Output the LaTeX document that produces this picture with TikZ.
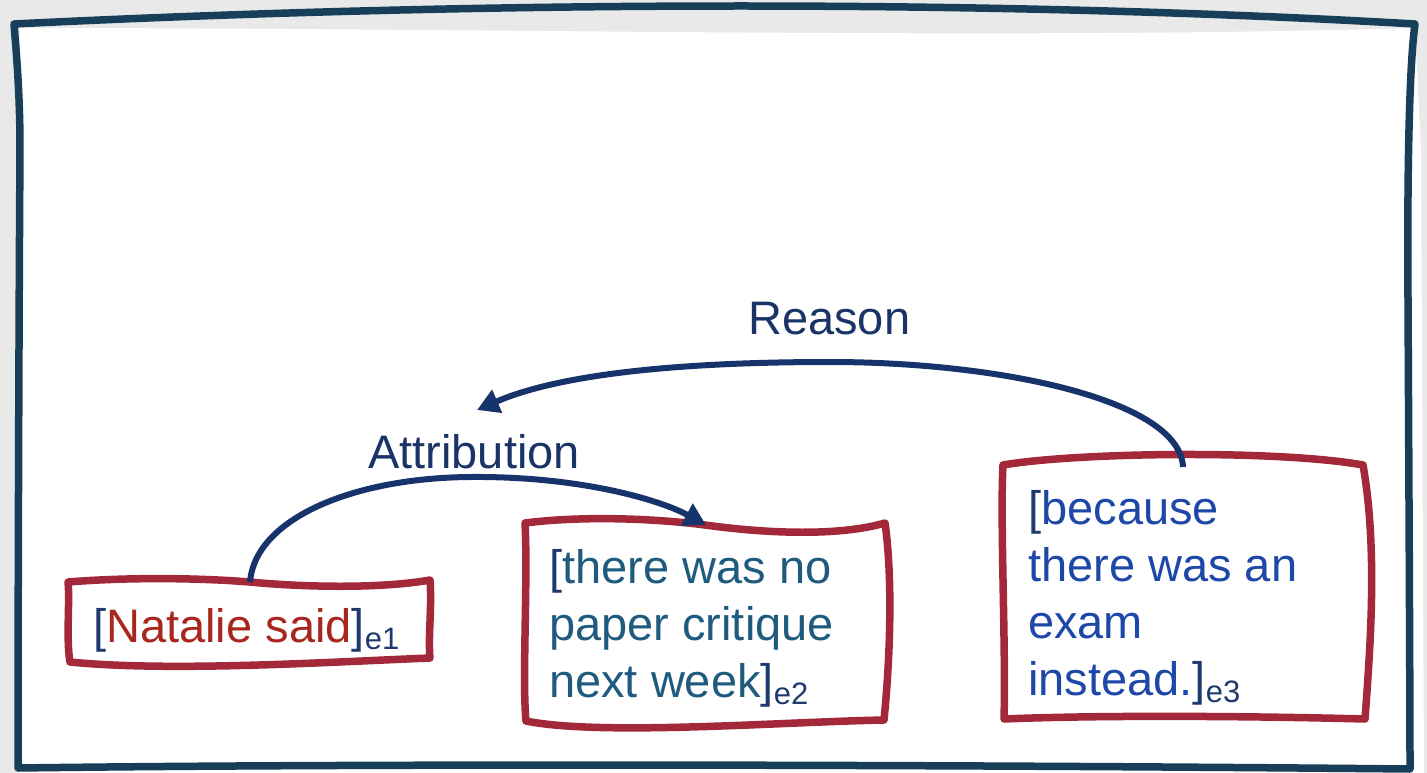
\documentclass[tikz,border=0pt]{standalone}
\usepackage{fontspec}
\setmainfont{Liberation Sans}
\usetikzlibrary{arrows.meta}
\definecolor{bgray}{HTML}{E9E9E9}
\definecolor{framecol}{HTML}{183F5A}
\definecolor{boxred}{HTML}{A3293A}
\definecolor{arrowblue}{HTML}{17336B}
\definecolor{brk}{HTML}{1F3A6E}
\definecolor{txtred}{HTML}{A8261E}
\definecolor{txtteal}{HTML}{1F5B7E}
\definecolor{txtblue}{HTML}{1E48A8}
\definecolor{lbl}{HTML}{1A3468}
\newcommand{\edusub}[1]{\raisebox{-7pt}{\fontsize{31}{31}\selectfont\color{brk}#1}}
\begin{document}
\begin{tikzpicture}[x=1pt,y=-1pt,
  sketch/.style={line width=7.5pt, line join=round, line cap=round},
  redbox/.style={sketch, draw=boxred},
  edutext/.style={font=\fontsize{47}{57}\selectfont, inner sep=0pt, align=left, anchor=base west},
  rel/.style={draw=arrowblue, line width=6pt, -{Triangle[length=22pt,width=24pt]}},
  rellabel/.style={font=\fontsize{47}{57}\selectfont, text=lbl, inner sep=0pt, anchor=base west}]
\useasboundingbox (0,0) rectangle (1427,773);
% background and paper
\fill[bgray] (0,0) rectangle (1427,773);
\fill[white] (20,28) .. controls (500,28) and (1000,40) .. (1415,28)
  -- (1421,150) -- (1424,773) -- (18,773) -- cycle;
% frame
\draw[sketch, draw=framecol] (14,24) .. controls (500,0) and (1000,0) .. (1415,24)
  .. controls (1410,60) and (1407,150) .. (1408,300)
  .. controls (1409,500) and (1410,700) .. (1410,769)
  .. controls (1000,765) and (400,763) .. (18,768)
  .. controls (18,600) and (19,300) .. (20,150)
  .. controls (20,90) and (16,50) .. cycle;
% boxes
\draw[redbox] (68,582) .. controls (130,577) and (200,578) .. (250,582)
  .. controls (300,587) and (380,589) .. (430,580)
  .. controls (432,610) and (428,635) .. (430,658)
  .. controls (330,662) and (170,672) .. (70,662)
  .. controls (66,640) and (70,600) .. cycle;
\draw[redbox] (525,523) .. controls (580,516) and (650,518) .. (705,525)
  .. controls (770,534) and (840,536) .. (885,523)
  .. controls (893,580) and (890,660) .. (884,720)
  .. controls (780,722) and (600,736) .. (526,721)
  .. controls (522,680) and (528,580) .. cycle;
\draw[redbox] (1003,465) .. controls (1080,452) and (1280,450) .. (1363,465)
  .. controls (1378,550) and (1370,650) .. (1365,719)
  .. controls (1250,716) and (1100,715) .. (1004,719)
  .. controls (1006,650) and (1000,520) .. cycle;
% texts (base anchor = baseline of last line)
\node[edutext] (e1) at (93,642) {{\color{brk}[}\textcolor{txtred}{Natalie said}{\color{brk}]}\edusub{e1}};
\node[edutext, text=txtteal] (e2) at (549,697) {{\color{brk}[}there was no\\paper critique\\next week{\color{brk}]}\edusub{e2}};
\node[edutext, text=txtblue] (e3) at (1028,695) {{\color{brk}[}because\\there was an\\exam\\instead.{\color{brk}]}\edusub{e3}};
% anchor points
\coordinate (e1top) at (250,582);
\coordinate (e2top) at (706,525);
\coordinate (e3top) at (1183,467);
\coordinate (reasontip) at (477,410);
% relations
\draw[rel] (e1top) .. controls (255,520) and (350,478) .. (470,477)
  .. controls (580,476) and (660,500) .. (e2top);
\draw[rel] (e3top) .. controls (1180,400) and (1000,362) .. (830,362)
  .. controls (680,362) and (560,374) .. (reasontip);
\node[rellabel] (reason) at (748,334) {Reason};
\node[rellabel] (attribution) at (368,468) {Attribution};
\end{tikzpicture}
\end{document}
